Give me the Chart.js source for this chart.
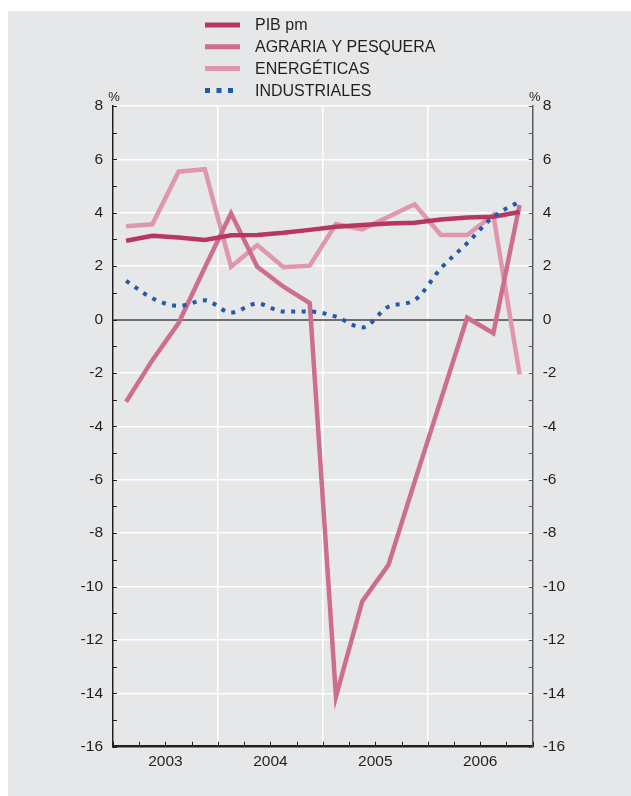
<!DOCTYPE html>
<html>
<head>
<meta charset="utf-8">
<script src="https://cdn.jsdelivr.net/npm/chart.js@4.4.1/dist/chart.umd.min.js"></script>
<style>
html, body { margin: 0; padding: 0; background: #fff; }
#panel { position: absolute; left: 8px; top: 11px; width: 623px; height: 785px; background: #e6e7e8; }
</style>
</head>
<body>
<div id="panel"><canvas id="chart"></canvas></div>
<script>
// trimestres 2003-2006
const years = ["2003", "2004", "2005", "2006"];
const quartersPerYear = 4;

// tasas de variación (%)
const pib = [2.95, 3.14, 3.07, 2.98, 3.16, 3.17, 3.25, 3.36, 3.48, 3.54, 3.6, 3.63, 3.75, 3.82, 3.85, 4.03];
const agraria = [-3.08, -1.52, -0.13, 1.95, 3.98, 1.98, 1.23, 0.62, -14.12, -10.56, -9.19, -6.07, -3.0, 0.07, -0.51, 4.29];
const energeticas = [3.5, 3.57, 5.54, 5.63, 1.98, 2.79, 1.96, 2.02, 3.58, 3.38, 3.85, 4.32, 3.17, 3.17, 3.92, -2.05];
const industriales = [1.45, 0.8, 0.51, 0.72, 0.26, 0.6, 0.3, 0.3, 0.11, -0.3, 0.48, 0.73, 1.92, 2.86, 3.85, 4.42];

const yMin = -16;
const yMax = 8;
const nQ = years.length * quartersPerYear;

const ink = "#231f20";
const font = '"Liberation Sans", Arial, Helvetica, sans-serif';
Chart.defaults.font.family = font;
Chart.defaults.font.size = 15.5;
Chart.defaults.color = ink;

// punto en el centro de cada trimestre
function toPoints(arr) {
    return arr.map((v, i) => ({ x: i + 0.5, y: v }));
}

// ticks interiores, "%" y leyenda vertical
const decor = {
    id: "decor",
    afterDraw(chart) {
        const { ctx, chartArea: a, scales: { x, y } } = chart;
        ctx.save();
        ctx.lineWidth = 1;
        for (let v = yMin; v <= yMax; v++) {
            const py = Math.round(y.getPixelForValue(v)) + 0.5;
            ctx.strokeStyle = ink;
            ctx.beginPath();
            ctx.moveTo(a.left, py); ctx.lineTo(a.left + 4, py);
            ctx.stroke();
            ctx.strokeStyle = "#58595b";
            ctx.beginPath();
            ctx.moveTo(a.right - 4, py); ctx.lineTo(a.right, py);
            ctx.stroke();
        }
        ctx.strokeStyle = ink;
        for (let q = 0; q <= nQ; q++) {
            const px = Math.round(x.getPixelForValue(q)) + 0.5;
            ctx.beginPath();
            ctx.moveTo(px, a.bottom); ctx.lineTo(px, a.bottom - 5);
            ctx.stroke();
        }
        ctx.fillStyle = ink;
        ctx.font = "13px " + font;
        ctx.textAlign = "center";
        ctx.textBaseline = "bottom";
        ctx.fillText("%", a.left + 1, a.top - 2);
        ctx.fillText("%", a.right + 2, a.top - 2);

        // leyenda
        ctx.font = "16px " + font;
        ctx.textAlign = "left";
        ctx.textBaseline = "middle";
        chart.data.datasets.forEach((ds, i) => {
            const ly = 14 + i * 21.8;
            ctx.strokeStyle = ds.borderColor;
            ctx.lineWidth = 5;
            ctx.lineCap = "butt";
            ctx.setLineDash(ds.borderDash ? [5, 6.5] : []);
            ctx.beginPath();
            ctx.moveTo(197, ly); ctx.lineTo(ds.borderDash ? 228 : 232, ly);
            ctx.stroke();
            ctx.setLineDash([]);
            ctx.fillText(ds.label, 247, ly + 1);
        });
        ctx.restore();
    }
};

const ctx = document.getElementById("chart").getContext("2d");
const chart = new Chart(ctx, {
    type: "line",
    data: {
        datasets: [
            { label: "PIB pm", data: toPoints(pib), borderColor: "#b8375f", borderWidth: 4.5, pointRadius: 0, tension: 0, order: 2 },
            { label: "AGRARIA Y PESQUERA", data: toPoints(agraria), borderColor: "#cd6e8e", borderWidth: 4.5, pointRadius: 0, tension: 0, order: 3 },
            { label: "ENERGÉTICAS", data: toPoints(energeticas), borderColor: "#de97ad", borderWidth: 4.5, pointRadius: 0, tension: 0, order: 4 },
            { label: "INDUSTRIALES", data: toPoints(industriales), borderColor: "#2459a8", borderWidth: 4, borderDash: [4, 6.5], borderCapStyle: "butt", pointRadius: 0, tension: 0.4, cubicInterpolationMode: "monotone", order: 1 }
        ]
    },
    options: {
        responsive: true,
        maintainAspectRatio: false,
        animation: false,
        layout: { padding: { top: 95, left: 0, right: 0, bottom: 0 } },
        plugins: { legend: { display: false }, tooltip: { enabled: false } },
        scales: {
            x: {
                type: "linear",
                min: 0,
                max: nQ,
                afterFit: s => { s.height = 49.3; },
                ticks: {
                    stepSize: 1,
                    autoSkip: false,
                    maxRotation: 0,
                    padding: 6,
                    callback: v => (v % 4 === 2 ? years[(v - 2) / 4] : "")
                },
                grid: {
                    drawTicks: false,
                    lineWidth: 1.5,
                    color: c => (c.tick && c.tick.value % 4 === 0 ? "#ffffff" : "rgba(0,0,0,0)")
                },
                border: { color: ink, width: 2.5 }
            },
            y: {
                position: "left",
                min: yMin,
                max: yMax,
                afterFit: s => { s.width = 105; },
                ticks: { stepSize: 2, padding: 10 },
                grid: {
                    drawTicks: false,
                    lineWidth: c => (c.tick && c.tick.value === 0 ? 2 : 1.5),
                    color: c => (c.tick && c.tick.value === 0 ? "#6d6e70" : "#ffffff")
                },
                border: { color: ink, width: 1.5 }
            },
            y2: {
                position: "right",
                min: yMin,
                max: yMax,
                afterFit: s => { s.width = 98.3; },
                ticks: { stepSize: 2, padding: 10 },
                grid: { drawOnChartArea: false, drawTicks: false },
                border: { color: "#58595b", width: 1.5 }
            }
        }
    },
    plugins: [decor]
});
</script>
</body>
</html>
